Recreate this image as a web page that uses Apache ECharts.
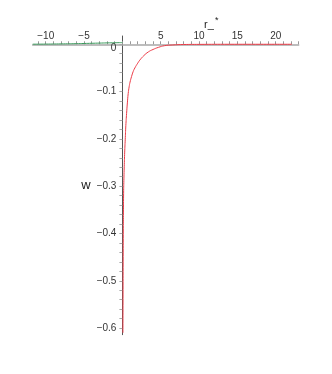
<!DOCTYPE html>
<html>
<head>
<meta charset="utf-8">
<script src="https://cdn.jsdelivr.net/npm/echarts@6/dist/echarts.min.js"></script>
<style>
  html, body { margin: 0; padding: 0; background: #fff; }
  #chart { width: 332px; height: 374px; }
</style>
</head>
<body>
<div id="chart"></div>
<script>
// r < 0 branch (green)
const greenR = [-11.7, -10, -8, -6, -5, -4, -3, -2, -1, -0.4, 0];
const greenW = [0.0002, 0.0004, 0.0008, 0.0013, 0.0017, 0.0021, 0.0025, 0.0029, 0.0032, 0.0034, 0.0035];

// r > 0 branch (red)
const redR = [0.07, 0.085, 0.1, 0.12, 0.14, 0.16, 0.2, 0.24, 0.3, 0.37, 0.45, 0.55, 0.65, 0.76, 0.88, 1.0, 1.2, 1.4, 1.63, 2.0, 2.3, 2.8, 3.4, 4.0, 4.7, 5.5, 6.5, 8, 10, 14, 18, 22.1];
const redW = [-0.61, -0.53, -0.46, -0.39, -0.35, -0.315, -0.283, -0.259, -0.228, -0.202, -0.172, -0.146, -0.124, -0.104, -0.09, -0.08, -0.068, -0.058, -0.05, -0.04, -0.033, -0.024, -0.016, -0.011, -0.0065, -0.003, -0.0015, -0.0005, -0.0002, 0, 0, 0];

// tick labels
const xLabels = [-10, -5, 5, 10, 15, 20];
const yLabels = [0, -0.1, -0.2, -0.3, -0.4, -0.5, -0.6];
const xTicks = [];
for (let i = -11; i <= 23; i++) xTicks.push(i);
const yTicks = [];
for (let i = 0; i <= 30; i++) yTicks.push(-i * 0.02);

const fmt = v => (v < 0 ? '\u2212' + String(Math.abs(v)) : String(v));
const pair = (xs, ys) => xs.map((x, i) => [x, ys[i]]);

const gridLeft = 32.7, gridTop = 36, gridW = 266, gridH = 298.7;
const xMin = -11.7, xMax = 23, yMin = -0.614, yMax = 0.0175;
// put axes through the origin
const xOff = -gridH * (yMax / (yMax - yMin));
const yOff = -gridW * (-xMin / (xMax - xMin));

const chart = echarts.init(document.getElementById('chart'));
chart.setOption({
  animation: false,
  textStyle: { fontFamily: 'Liberation Sans, Arial, sans-serif' },
  grid: { left: gridLeft, top: gridTop, width: gridW, height: gridH, outerBoundsMode: 'none' },
  xAxis: {
    type: 'value',
    position: 'top',
    offset: xOff,
    min: xMin,
    max: xMax,
    axisLine: { onZero: false, lineStyle: { color: '#a8a8a8', width: 1.5 } },
    axisTick: { customValues: xTicks, length: 3, lineStyle: { color: '#999' } },
    axisLabel: {
      customValues: xLabels,
      margin: 3,
      fontSize: 10,
      color: '#333',
      formatter: fmt
    },
    splitLine: { show: false }
  },
  yAxis: {
    type: 'value',
    position: 'left',
    offset: yOff,
    min: yMin,
    max: yMax,
    name: 'w',
    nameLocation: 'middle',
    nameRotate: 0,
    nameGap: 27,
    nameTextStyle: { fontSize: 13, color: '#222', padding: [4, 0, 0, 0] },
    axisLine: { onZero: false, lineStyle: { color: '#555', width: 1 } },
    axisTick: { customValues: yTicks, length: 3, lineStyle: { color: '#aaa' } },
    axisLabel: {
      customValues: yLabels,
      margin: 6,
      fontSize: 10,
      color: '#333',
      formatter: v => (v === 0 ? '{z|0}' : fmt(Math.round(v * 10) / 10)),
      rich: { z: { fontSize: 10, color: '#333', padding: [7, 0, 0, 0] } }
    },
    splitLine: { show: false }
  },
  graphic: [
    {
      type: 'text',
      left: 204,
      top: 19,
      style: { text: 'r_', fill: '#222', font: '11px Liberation Sans' }
    },
    {
      type: 'text',
      left: 215,
      top: 16,
      style: { text: '*', fill: '#222', font: '9px Liberation Sans' }
    }
  ],
  series: [
    {
      type: 'line',
      data: pair(greenR, greenW),
      showSymbol: false,
      smooth: true,
      lineStyle: { color: '#3a9a5c', width: 1 },
      z: 3
    },
    {
      type: 'line',
      data: pair(redR, redW),
      showSymbol: false,
      smooth: true,
      lineStyle: { color: '#ec3a46', width: 1 },
      z: 3
    }
  ]
});
</script>
</body>
</html>
